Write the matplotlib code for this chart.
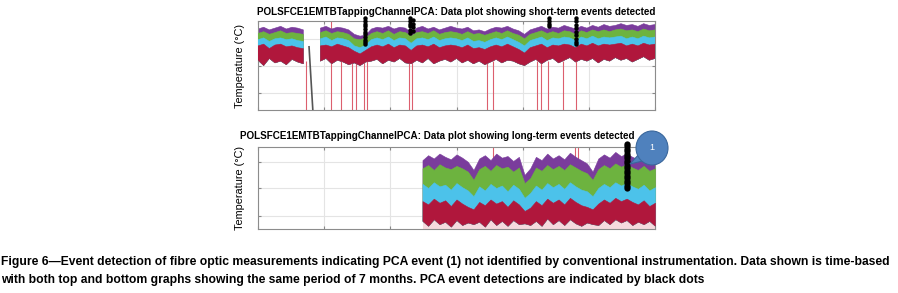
import numpy as np
import matplotlib
matplotlib.use("Agg")
import matplotlib.pyplot as plt
import matplotlib.patches as mpatches
from matplotlib import font_manager

# ---- data (arbitrary temperature units 0-100) ----
nan = np.nan
days_top = np.arange(0, 211, 3)          # 7 months, sampled every 3 days

purple_top = [91, 93, 90, 92, 94, 91, 93, 92, 90, nan, nan,
              92, 94, 91, 93, 92, 90, 85, 83, 84,
              91, 93, 92, 94, 91, 93, 92, 87,
              92, 94, 91, 93, 90, 92, 94, 92, 91, 93, 89, 90, 88, 91, 93, 92, 94, 91,
              89, 85,
              90, 92, 94, 91, 93, 92, 95, 93, 91, 94, 92, 95, 93, 96, 94, 95, 97, 95, 96, 94, 97, 95, 96]
green_top = [86, 88, 85, 87, 89, 86, 87, 86, 85, nan, nan,
             87, 89, 86, 88, 87, 85, 80, 79, 81,
             86, 88, 86, 89, 85, 88, 87, 83,
             87, 88, 86, 89, 85, 87, 88, 87, 85, 88, 85, 86, 84, 86, 88, 86, 89, 86,
             84, 80,
             85, 87, 89, 86, 88, 86, 89, 88, 85, 89, 87, 90, 88, 90, 88, 90, 91, 89, 90, 88, 91, 89, 90]
cyan_top = [79, 81, 77, 80, 81, 79, 80, 78, 77, nan, nan,
            80, 82, 78, 81, 80, 78, 72, 70, 73,
            79, 81, 79, 82, 78, 81, 80, 75,
            80, 81, 79, 82, 78, 80, 81, 80, 78, 81, 77, 78, 76, 79, 81, 79, 82, 79,
            76, 72,
            78, 80, 82, 78, 81, 80, 82, 81, 78, 82, 80, 83, 80, 82, 81, 82, 83, 80, 82, 80, 83, 81, 82]
red_top = [72, 74, 69, 73, 74, 71, 72, 70, 69, nan, nan,
           72, 73, 71, 74, 72, 70, 66, 63, 67,
           71, 73, 71, 74, 70, 73, 72, 67,
           72, 73, 71, 74, 70, 72, 73, 72, 70, 73, 69, 70, 68, 71, 73, 71, 74, 71,
           68, 64,
           70, 72, 74, 70, 73, 72, 74, 73, 70, 74, 72, 75, 72, 74, 73, 74, 75, 72, 74, 72, 75, 73, 74]
red_bot = [56, 50, 58, 53, 55, 51, 57, 54, 52, nan, nan,
           55, 58, 52, 56, 54, 51, 53, 50, 54,
           55, 57, 52, 56, 54, 58, 53, 52,
           56, 53, 58, 52, 55, 57, 54, 58, 53, 56, 52, 55, 51, 54, 57, 53, 56, 55,
           52, 50,
           54, 57, 52, 56, 58, 53, 56, 59, 54, 57, 55, 58, 53, 57, 55, 59, 56, 58, 54, 57, 60, 56, 58]

# sensor dropout at the start of the record
drop_days = [27, 29]
drop_vals = [71, 0]

# red single-sample drops (day, top value)
spike_days_top = [25.4, 38.6, 43.9, 49.7, 51.9, 56.1, 57.7, 79.9, 81.5,
                  121.2, 124.3, 147.6, 149.7, 153.4, 161.4, 168.3]
spike_tops_top = [55, 100, 55, 55, 55, 60, 60, 55, 55,
                  55, 55, 55, 55, 55, 55, 55]

# PCA short-term detections (day, values)
det_top = {
    56.4: [103, 100, 97, 94, 91, 88, 85, 82, 79, 76, 74],
    80.6: [103, 100, 97, 94, 90, 87],
    82.0: [101, 97, 93, 89],
    153.8: [103, 100, 97, 94],
    168.4: [103, 100, 96, 92, 88, 84, 80, 76, 74],
}

days_bot = np.arange(87, 211, 3)
purple_top2 = [84, 90, 86, 92, 88, 85, 91, 87, 82, 72,
               86, 90, 84, 92, 87, 89, 83, 88, 66, 74,
               88, 84, 92, 86, 90, 85, 93, 88, 84, 80,
               70, 86, 91, 87, 94, 89, 92, 88, 85, 90, 84, 87]
green_top2 = [74, 78, 72, 79, 75, 73, 77, 74, 70, 60,
              73, 77, 71, 78, 74, 76, 70, 75, 56, 62,
              75, 71, 78, 73, 77, 72, 79, 75, 71, 68,
              60, 73, 78, 74, 80, 76, 79, 75, 72, 77, 71, 74]
cyan_top2 = [55, 50, 57, 52, 54, 48, 56, 51, 47, 40,
             52, 47, 55, 50, 53, 46, 54, 49, 38, 44,
             53, 48, 56, 51, 55, 49, 57, 52, 48, 46,
             40, 50, 55, 51, 57, 53, 56, 52, 49, 54, 47, 51]
red_top2 = [34, 30, 37, 32, 35, 28, 36, 31, 27, 24,
            33, 29, 36, 31, 34, 27, 35, 30, 22, 26,
            34, 29, 37, 32, 36, 30, 38, 33, 29, 27,
            24, 31, 36, 32, 38, 34, 37, 33, 30, 35, 28, 32]
red_bot2 = [10, 4, 12, 6, 9, 3, 11, 5, 8, 6,
            9, 3, 12, 5, 10, 4, 11, 6, 7, 5,
            10, 4, 13, 6, 11, 5, 12, 7, 4, 8,
            6, 5, 11, 6, 12, 8, 11, 5, 9, 6, 10, 4]
spike_days_bot = [124.3, 167.8, 169.5]
det_bot_day = 195.0
det_bot_vals = [104, 101, 98, 95, 92, 89, 86, 83, 80, 77, 74, 71, 68, 65, 62, 59, 56, 53, 50]

titles = ["POLSFCE1EMTBTappingChannelPCA: Data plot showing short-term events detected",
          "POLSFCE1EMTBTappingChannelPCA: Data plot showing long-term events detected"]
ylabel = "Temperature (°C)"
caption = ["Figure 6\u2014Event detection of fibre optic measurements indicating PCA event (1) not identified by conventional instrumentation. Data shown is time-based",
           "with both top and bottom graphs showing the same period of 7 months. PCA event detections are indicated by black dots"]

# ---- style ----
PURPLE = "#7a3c9c"
GREEN = "#6db33f"
CYAN = "#4cc2ea"
RED = "#b0173c"
SPIKE = "#dc5f6e"

available = {f.name for f in font_manager.fontManager.ttflist}
base_font = "Liberation Sans" if "Liberation Sans" in available else "DejaVu Sans"
cap_font = "Liberation Sans Narrow" if "Liberation Sans Narrow" in available else base_font
plt.rcParams['font.family'] = [base_font, 'DejaVu Sans']

W, H = 898, 293
fig = plt.figure(figsize=(W / 100, H / 100), dpi=100)
ax1 = fig.add_axes([258 / W, 1 - 110 / H, 397 / W, 89 / H])
ax2 = fig.add_axes([258 / W, 1 - 229 / H, 397 / W, 82 / H])


def style_axes(ax, yticks):
    ax.set_xlim(0, 210)
    ax.set_ylim(0, 100)
    ax.set_xticks(np.arange(0, 211, 35))
    ax.set_yticks(yticks)
    ax.set_xticklabels([])
    ax.set_yticklabels([])
    ax.tick_params(direction='in', length=2, color='#888888', top=True, right=True)
    ax.grid(True, color='#e4e4e4', linewidth=0.8)
    ax.set_axisbelow(True)
    for s in ax.spines.values():
        s.set_color('#8c8c8c')
        s.set_linewidth(0.8)
    ax.set_ylabel(ylabel, fontsize=7.8, labelpad=6)


def bands(ax, d, p, g, c, rt, rb):
    d = np.asarray(d, float)
    ax.fill_between(d, p, rb, color=PURPLE, lw=0.4, zorder=2)
    ax.fill_between(d, g, rb, color=GREEN, lw=0.4, zorder=3)
    ax.fill_between(d, c, rb, color=CYAN, lw=0.4, zorder=4)
    ax.fill_between(d, rt, rb, color=RED, lw=0.4, zorder=5)


# top panel
style_axes(ax1, [19, 49.5, 80])
ax1.vlines(spike_days_top, 0, spike_tops_top, color=SPIKE, lw=0.8, zorder=1.5)
bands(ax1, days_top, purple_top, green_top, cyan_top, red_top, red_bot)
ax1.plot(drop_days, drop_vals, color='#555555', lw=1.2, zorder=6)
for d, vals in det_top.items():
    ax1.plot([d] * len(vals), vals, 'o', color='black', ms=3.2, mew=0,
             zorder=8, clip_on=False)
ax1.set_title(titles[0], fontsize=7.1, fontweight='bold', pad=4.5)

# bottom panel
style_axes(ax2, [16, 50, 82])
ax2.fill_between(days_bot, red_bot2, 0, color='#f5dade', lw=0, zorder=1.8)
ax2.vlines(spike_days_bot, 30, 100, color=SPIKE, lw=0.8, zorder=1.5)
bands(ax2, days_bot, purple_top2, green_top2, cyan_top2, red_top2, red_bot2)
ax2.plot([det_bot_day] * len(det_bot_vals), det_bot_vals, 'o', color='black',
         ms=4.5, mew=0, zorder=8, clip_on=False)
# this title sits left of centre in the original, leaving room for the callout
ax2.set_title(titles[1], fontsize=7.1, fontweight='bold', pad=6, x=0.452)

# callout bubble "1"
tail = mpatches.Polygon([(640 / W, 1 - 153 / H), (630 / W, 1 - 164 / H), (647 / W, 1 - 160 / H)],
                        closed=True, transform=fig.transFigure, facecolor='#4f81bd',
                        edgecolor='#3a679c', lw=0.8, zorder=10)
bubble = mpatches.Ellipse((652 / W, 1 - 148 / H), 32 / W, 34 / H, transform=fig.transFigure,
                          facecolor='#4f81bd', edgecolor='#3a679c', lw=0.8, zorder=11)
fig.patches.extend([tail, bubble])
fig.text(652 / W, 1 - 148 / H, "1", color='white', fontsize=6.5, ha='center', va='center', zorder=12)

# caption
cap_texts = []
for i, line in enumerate(caption):
    t = fig.text(1 / W, 1 - (262 + 18 * i) / H, line, fontsize=8, fontweight='bold',
                 family=[cap_font, 'DejaVu Sans'], ha='left', va='center')
    cap_texts.append(t)
# shrink first caption line to span the figure width like the reference
fig.canvas.draw()
r = fig.canvas.get_renderer()
wpx = cap_texts[0].get_window_extent(r).width
scale = 892 / wpx
for t in cap_texts:
    t.set_fontsize(8 * scale)

fig.savefig("out.png", dpi=100)
